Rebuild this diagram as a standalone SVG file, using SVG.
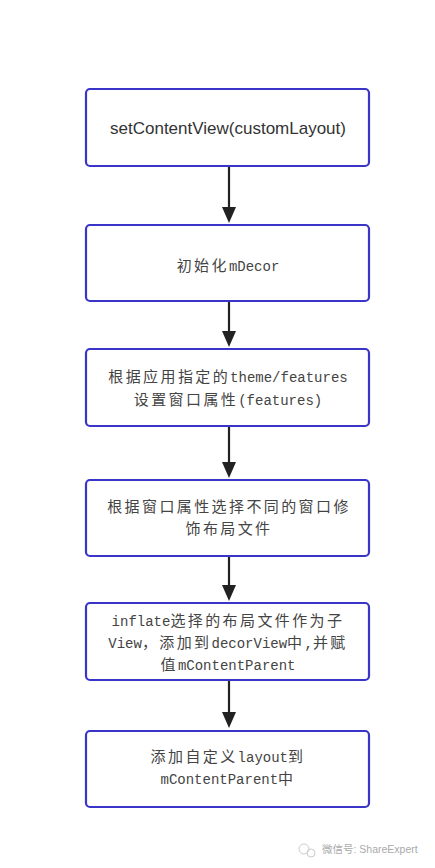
<svg xmlns="http://www.w3.org/2000/svg" width="435" height="868" viewBox="0 0 435 868">
<defs>
<style>
.box{fill:#fff;stroke:#3a34c8;stroke-width:2.2}
.t{font-family:"Liberation Mono","Noto Sans CJK SC",monospace;font-size:14px;fill:#444;text-anchor:middle}
.k{font-family:"Noto Sans CJK SC",sans-serif;font-size:15px;letter-spacing:2.4px}
.ts{font-family:"Liberation Sans","Noto Sans CJK SC",sans-serif;font-size:17px;fill:#333;text-anchor:middle}
.c{stroke:#222;stroke-width:2.2;fill:none}
.wm{font-family:"Liberation Sans","Noto Sans CJK SC",sans-serif;font-size:10.5px;fill:#aaa}
</style>
</defs>
<rect width="435" height="868" fill="#fff"/>
<g id="connectors">
<line class="c" x1="229" y1="166" x2="229" y2="208"/><path d="M222,207 L236,207 L229,223 Z" fill="#222"/>
<line class="c" x1="229" y1="301" x2="229" y2="332"/><path d="M222,331 L236,331 L229,347 Z" fill="#222"/>
<line class="c" x1="229" y1="426" x2="229" y2="463"/><path d="M222,462 L236,462 L229,478 Z" fill="#222"/>
<line class="c" x1="229" y1="556" x2="229" y2="586"/><path d="M222,585 L236,585 L229,601 Z" fill="#222"/>
<line class="c" x1="229" y1="680" x2="229" y2="713"/><path d="M222,712 L236,712 L229,728 Z" fill="#222"/>
</g>
<g id="n1"><rect class="box" x="86" y="89" width="283" height="77" rx="4"/><text class="ts" x="228" y="134">setContentView(customLayout)</text></g>
<g id="n2"><rect class="box" x="86" y="225" width="283" height="76" rx="4"/><text class="t" x="228" y="271"><tspan class="k">初始化</tspan>mDecor</text></g>
<g id="n3"><rect class="box" x="86" y="349" width="283" height="77" rx="4"/><text class="t" x="228" y="382"><tspan class="k">根据应用指定的</tspan>theme/features</text><text class="t" x="228" y="405"><tspan class="k">设置窗口属性</tspan>(features)</text></g>
<g id="n4"><rect class="box" x="86" y="480" width="283" height="76" rx="4"/><text class="t" x="229" y="512"><tspan class="k">根据窗口属性选择不同的窗口修</tspan></text><text class="t" x="229" y="534"><tspan class="k">饰布局文件</tspan></text></g>
<g id="n5"><rect class="box" x="86" y="603" width="283" height="77" rx="4"/><text class="t" x="228" y="626">inflate<tspan class="k">选择的布局文件作为子</tspan></text><text class="t" x="228" y="648">View<tspan class="k">，添加到</tspan>decorView<tspan class="k">中</tspan>,<tspan class="k">并赋</tspan></text><text class="t" x="228" y="670"><tspan class="k">值</tspan>mContentParent</text></g>
<g id="n6"><rect class="box" x="86" y="731" width="283" height="76" rx="4"/><text class="t" x="228" y="762"><tspan class="k">添加自定义</tspan>layout<tspan class="k">到</tspan></text><text class="t" x="228" y="784">mContentParent<tspan class="k">中</tspan></text></g>
<g id="watermark"><circle cx="304" cy="849" r="5" fill="none" stroke="#ccc" stroke-width="1"/><circle cx="311" cy="853" r="4" fill="none" stroke="#ccc" stroke-width="1"/><text class="wm" x="322" y="853">微信号: ShareExpert</text></g>
</svg>
